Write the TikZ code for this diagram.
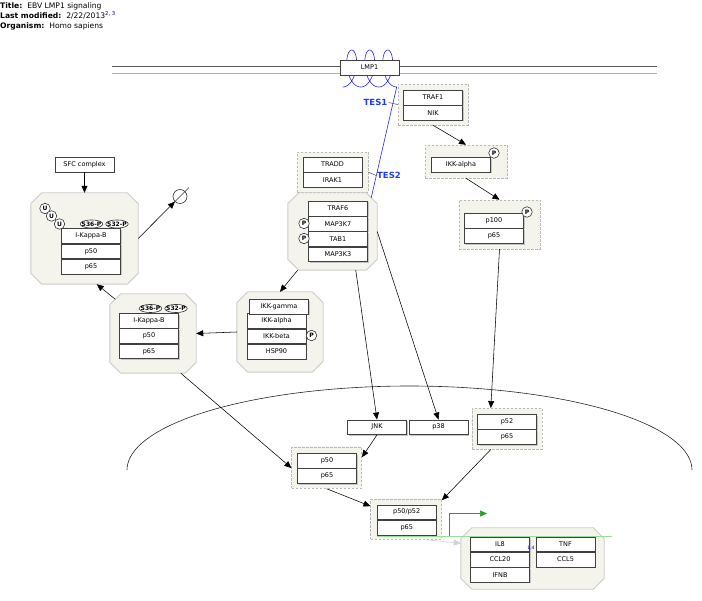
\documentclass[tikz,border=0pt]{standalone}
\usepackage{fontspec}
\setmainfont{DejaVu Sans}
\usepackage{xcolor}
\usepackage{tikz}
\usetikzlibrary{arrows.meta, positioning, shapes, shadows, calc}
\definecolor{cplxfill}{HTML}{F4F4EC}
\definecolor{tesblue}{HTML}{1E3CFF}
\definecolor{regreen}{HTML}{22A022}
\definecolor{lightgrn}{HTML}{9EDB9E}

% octagonal complex outline round a named node
\newcommand{\octline}[1]{%
  \draw[octedge] ([xshift=11pt]#1.north west) -- ([xshift=-11pt]#1.north east)
    -- ([yshift=-11pt]#1.north east) -- ([yshift=11pt]#1.south east)
    -- ([xshift=-11pt]#1.south east) -- ([xshift=11pt]#1.south west)
    -- ([yshift=11pt]#1.south west) -- ([yshift=-11pt]#1.north west) -- cycle;}

\begin{document}
\begin{tikzpicture}[
  x=1pt, y=-1pt,
  node distance=0pt,
  gene/.style={rectangle, draw=black!75, fill=white, line width=0.6pt,
               minimum width=59pt, minimum height=14.7pt, inner sep=0pt,
               font=\fontsize{6.5}{7}\selectfont,
               drop shadow={shadow xshift=1.1pt, shadow yshift=-1.1pt,
                            fill=gray!45, opacity=1}},
  cplx/.style={rectangle, draw=gray!55, fill=cplxfill,
               dash pattern=on 2.5pt off 1.5pt, line width=0.5pt, inner sep=0pt},
  octa/.style={rectangle, inner sep=0pt},
  octedge/.style={draw=gray!40, fill=cplxfill, line width=0.9pt},
  pmod/.style={circle, draw=black!80, fill=white, line width=0.6pt,
               inner sep=0pt, minimum size=10.5pt,
               font=\fontsize{6}{6}\bfseries\selectfont},
  site/.style={ellipse, draw=black!80, fill=white, line width=0.6pt,
               inner xsep=-1.8pt, inner ysep=0.6pt,
               font=\fontsize{6}{6}\bfseries\selectfont},
  arr/.style={-{Triangle[length=7pt, width=6pt]}, line width=0.55pt, black},
  tes/.style={font=\fontsize{8.5}{9}\bfseries\selectfont, text=tesblue, inner sep=1pt},
  tesline/.style={black!70, line width=0.5pt},
]
\useasboundingbox (0,0) rectangle (702,601);

%% Header
\node[anchor=north west, align=left, inner sep=0pt,
      font=\fontsize{7.6}{10}\selectfont] (hdr) at (0,2.5)
      {\textbf{Title:}~~EBV LMP1 signaling\\
       \textbf{Last modified:}~~2/22/2013\textsuperscript{\textcolor{blue!60!black}{2, 3}}\\
       \textbf{Organism:}~~Homo sapiens};

%% Membrane and nucleus
\coordinate (mem1l) at (112,66.5);
\coordinate (mem1r) at (657,66.5);
\coordinate (mem2l) at (112,73.5);
\coordinate (mem2r) at (657,73.5);
\draw[black!65, line width=0.6pt] (mem1l) -- (mem1r);
\draw[gray!60, line width=0.6pt] (mem2l) -- (mem2r);
\draw[black!85, line width=0.6pt]
  plot[domain=180:360, samples=80, smooth] ({409.5+282.5*cos(\x)}, {470+84*sin(\x)});

%% Cytoplasm complexes
\node[cplx, minimum width=70pt, minimum height=41pt] (traf1c) at (433,104.5) {};
\node[gene] (traf1) at (433,97.5) {TRAF1};
\node[gene, below=of traf1] (nik) {NIK};

\node[cplx, minimum width=82pt, minimum height=33pt] (ikkac) at (466,161.5) {};
\node[gene] (ikka1) at (461,165) {IKK-alpha};
\node[pmod] (ikka1p) at (494,153) {P};

\node[cplx, minimum width=81pt, minimum height=49pt] (p100c) at (499.5,224.5) {};
\node[gene] (p100) at (494,220.8) {p100};
\node[gene, below=of p100] (p65a) {p65};
\node[pmod] (p100p) at (527,212) {P};

\node[cplx, minimum width=71pt, minimum height=40pt] (traddc) at (332.5,172) {};
\node[gene] (tradd) at (332.5,164.5) {TRADD};
\node[gene, below=of tradd] (irak1) {IRAK1};

\node[octa, minimum width=89pt, minimum height=77pt] (traf6o) at (332.5,231.5) {};
\octline{traf6o}
\node[gene] (traf6) at (338,208.5) {TRAF6};
\node[gene, below=of traf6] (map3k7) {MAP3K7};
\node[gene, below=of map3k7] (tab1) {TAB1};
\node[gene, below=of tab1] (map3k3) {MAP3K3};
\node[pmod] (map3k7p) at (304,223.5) {P};
\node[pmod] (tab1p) at (304,238.5) {P};

\node[gene] (sfc) at (84.5,164.5) {SFC complex};

\node[octa, minimum width=107pt, minimum height=91pt] (ikb1o) at (84.5,238.5) {};
\octline{ikb1o}
\node[gene] (ikb1) at (91,236) {I-Kappa-B};
\node[gene, below=of ikb1] (p50a) {p50};
\node[gene, below=of p50a] (p65b) {p65};
\node[pmod] (ikb1u1) at (45,208.5) {U};
\node[pmod] (ikb1u2) at (51.5,216) {U};
\node[pmod] (ikb1u3) at (59.5,224) {U};
\node[site] (ikb1s36) at (91.5,224) {S36-P};
\node[site] (ikb1s32) at (117,224) {S32-P};

%% Degradation
\node[circle, draw=black!80, line width=0.6pt, minimum size=14pt, inner sep=0pt] (deg) at (180,196.5) {};
\draw[black!80, line width=0.6pt] ($(deg.center)+(-9,9)$) -- ($(deg.center)+(9,-9)$);

\node[octa, minimum width=86pt, minimum height=80pt] (ikkgo) at (280,332) {};
\octline{ikkgo}
\node[gene] (ikka2) at (276.5,321) {IKK-alpha};
\node[gene, below=of ikka2] (ikkb) {IKK-beta};
\node[gene, below=of ikkb] (hsp90) {HSP90};
\node[gene] (ikkg) at (279,306.8) {IKK-gamma};
\node[pmod] (ikkbp) at (311.5,335.5) {P};

\node[octa, minimum width=86pt, minimum height=79pt] (ikb2o) at (153,333.5) {};
\octline{ikb2o}
\node[gene] (ikb2) at (149,320.8) {I-Kappa-B};
\node[gene, below=of ikb2] (p50b) {p50};
\node[gene, below=of p50b] (p65c) {p65};
\node[site] (ikb2s36) at (150.5,308.5) {S36-P};
\node[site] (ikb2s32) at (176,308.5) {S32-P};

%% Nucleus
\node[gene] (jnk) at (377,427.2) {JNK};
\node[gene] (p38) at (438.5,427.2) {p38};

\node[cplx, minimum width=70pt, minimum height=41pt] (p52c) at (507,428.8) {};
\node[gene] (p52) at (507,421.8) {p52};
\node[gene, below=of p52] (p65d) {p65};

\node[cplx, minimum width=70pt, minimum height=41pt] (p50c) at (326.7,468) {};
\node[gene] (p50) at (327,460.8) {p50};
\node[gene, below=of p50] (p65e) {p65};

\node[cplx, minimum width=71pt, minimum height=40pt] (p5052c) at (406.2,519.2) {};
\node[gene] (p5052) at (406.7,512.2) {p50/p52};
\node[gene, below=of p5052] (p65f) {p65};

\node[octa, minimum width=143pt, minimum height=61pt] (il8o) at (532.5,558.5) {};
\octline{il8o}

%% Transcription (green)
\coordinate (grnl) at (377,536);
\coordinate (grnr) at (612,536);
\coordinate (grnb) at (449.5,536);
\coordinate (grnt) at (487,513.5);
\draw[lightgrn, line width=0.6pt] (grnl) -- (grnr);
\draw[-{Triangle[length=7pt, width=6pt]}, regreen, line width=0.6pt] (grnb) |- (grnt);

\node[gene] (il8) at (500,544.2) {IL8};
\node[gene, below=of il8] (ccl20) {CCL20};
\node[gene, below=of ccl20] (ifnb) {IFNB};
\node[gene] (tnf) at (565.5,544.2) {TNF};
\node[gene, below=of tnf] (ccl5) {CCL5};
\node[font=\fontsize{4.5}{5}\selectfont, text=blue!60!black, inner sep=0pt] (il8ref) at (531,548) {1,4};

%% LMP1 and the TES line
\draw[blue!85, line width=0.6pt]
  plot[domain=180:1260, samples=220, smooth] ({333.7+\x/20-9*sin(\x)}, {68.5-18.5*cos(\x)})
  -- ($(traf6o.north east)+(-6,5)$);
\node[gene] (lmp1) at (369.5,67.5) {LMP1};
\node[tes] (tes1) at (375.5,102.5) {TES1};
\node[tes] (tes2) at (389,175.5) {TES2};
\draw[tesline] (tes1.east) -- (traf1c.west);
\draw[tesline] (traddc.east) -- (tes2.west);

%% Edges
\draw[arr] (sfc.south) -- (ikb1o.north);
\draw[arr] (ikb1o.east) -- (deg);
\draw[arr] (traf1c.south) -- (ikkac.north);
\draw[arr] (ikkac.south) -- (p100c.north);
\draw[arr] (p100c.south) -- (p52c.128);
\draw[arr] (traf6o.228) -- (ikkgo.north);
\draw[arr] (traf6o.301) -- (jnk.north);
\draw[arr] (traf6o.east) -- (p38.north);
\draw[arr] (ikkgo.west) -- (ikb2o.east);
\draw[arr] ($(ikb2o.north west)+(5.5,5.5)$) -- (ikb1o.285);
\draw[arr] (ikb2o.305) -- (p50c.west);
\draw[arr] (jnk.south) -- (p50c.17);
\draw[arr] (p50c.south) -- (p5052c.160);
\draw[arr] (p52c.232) -- (p5052c.28);
\draw[-{Triangle[length=7pt, width=6pt]}, gray!35, line width=0.6pt] (p5052c.310) -- (il8o.168);

\end{tikzpicture}
\end{document}
